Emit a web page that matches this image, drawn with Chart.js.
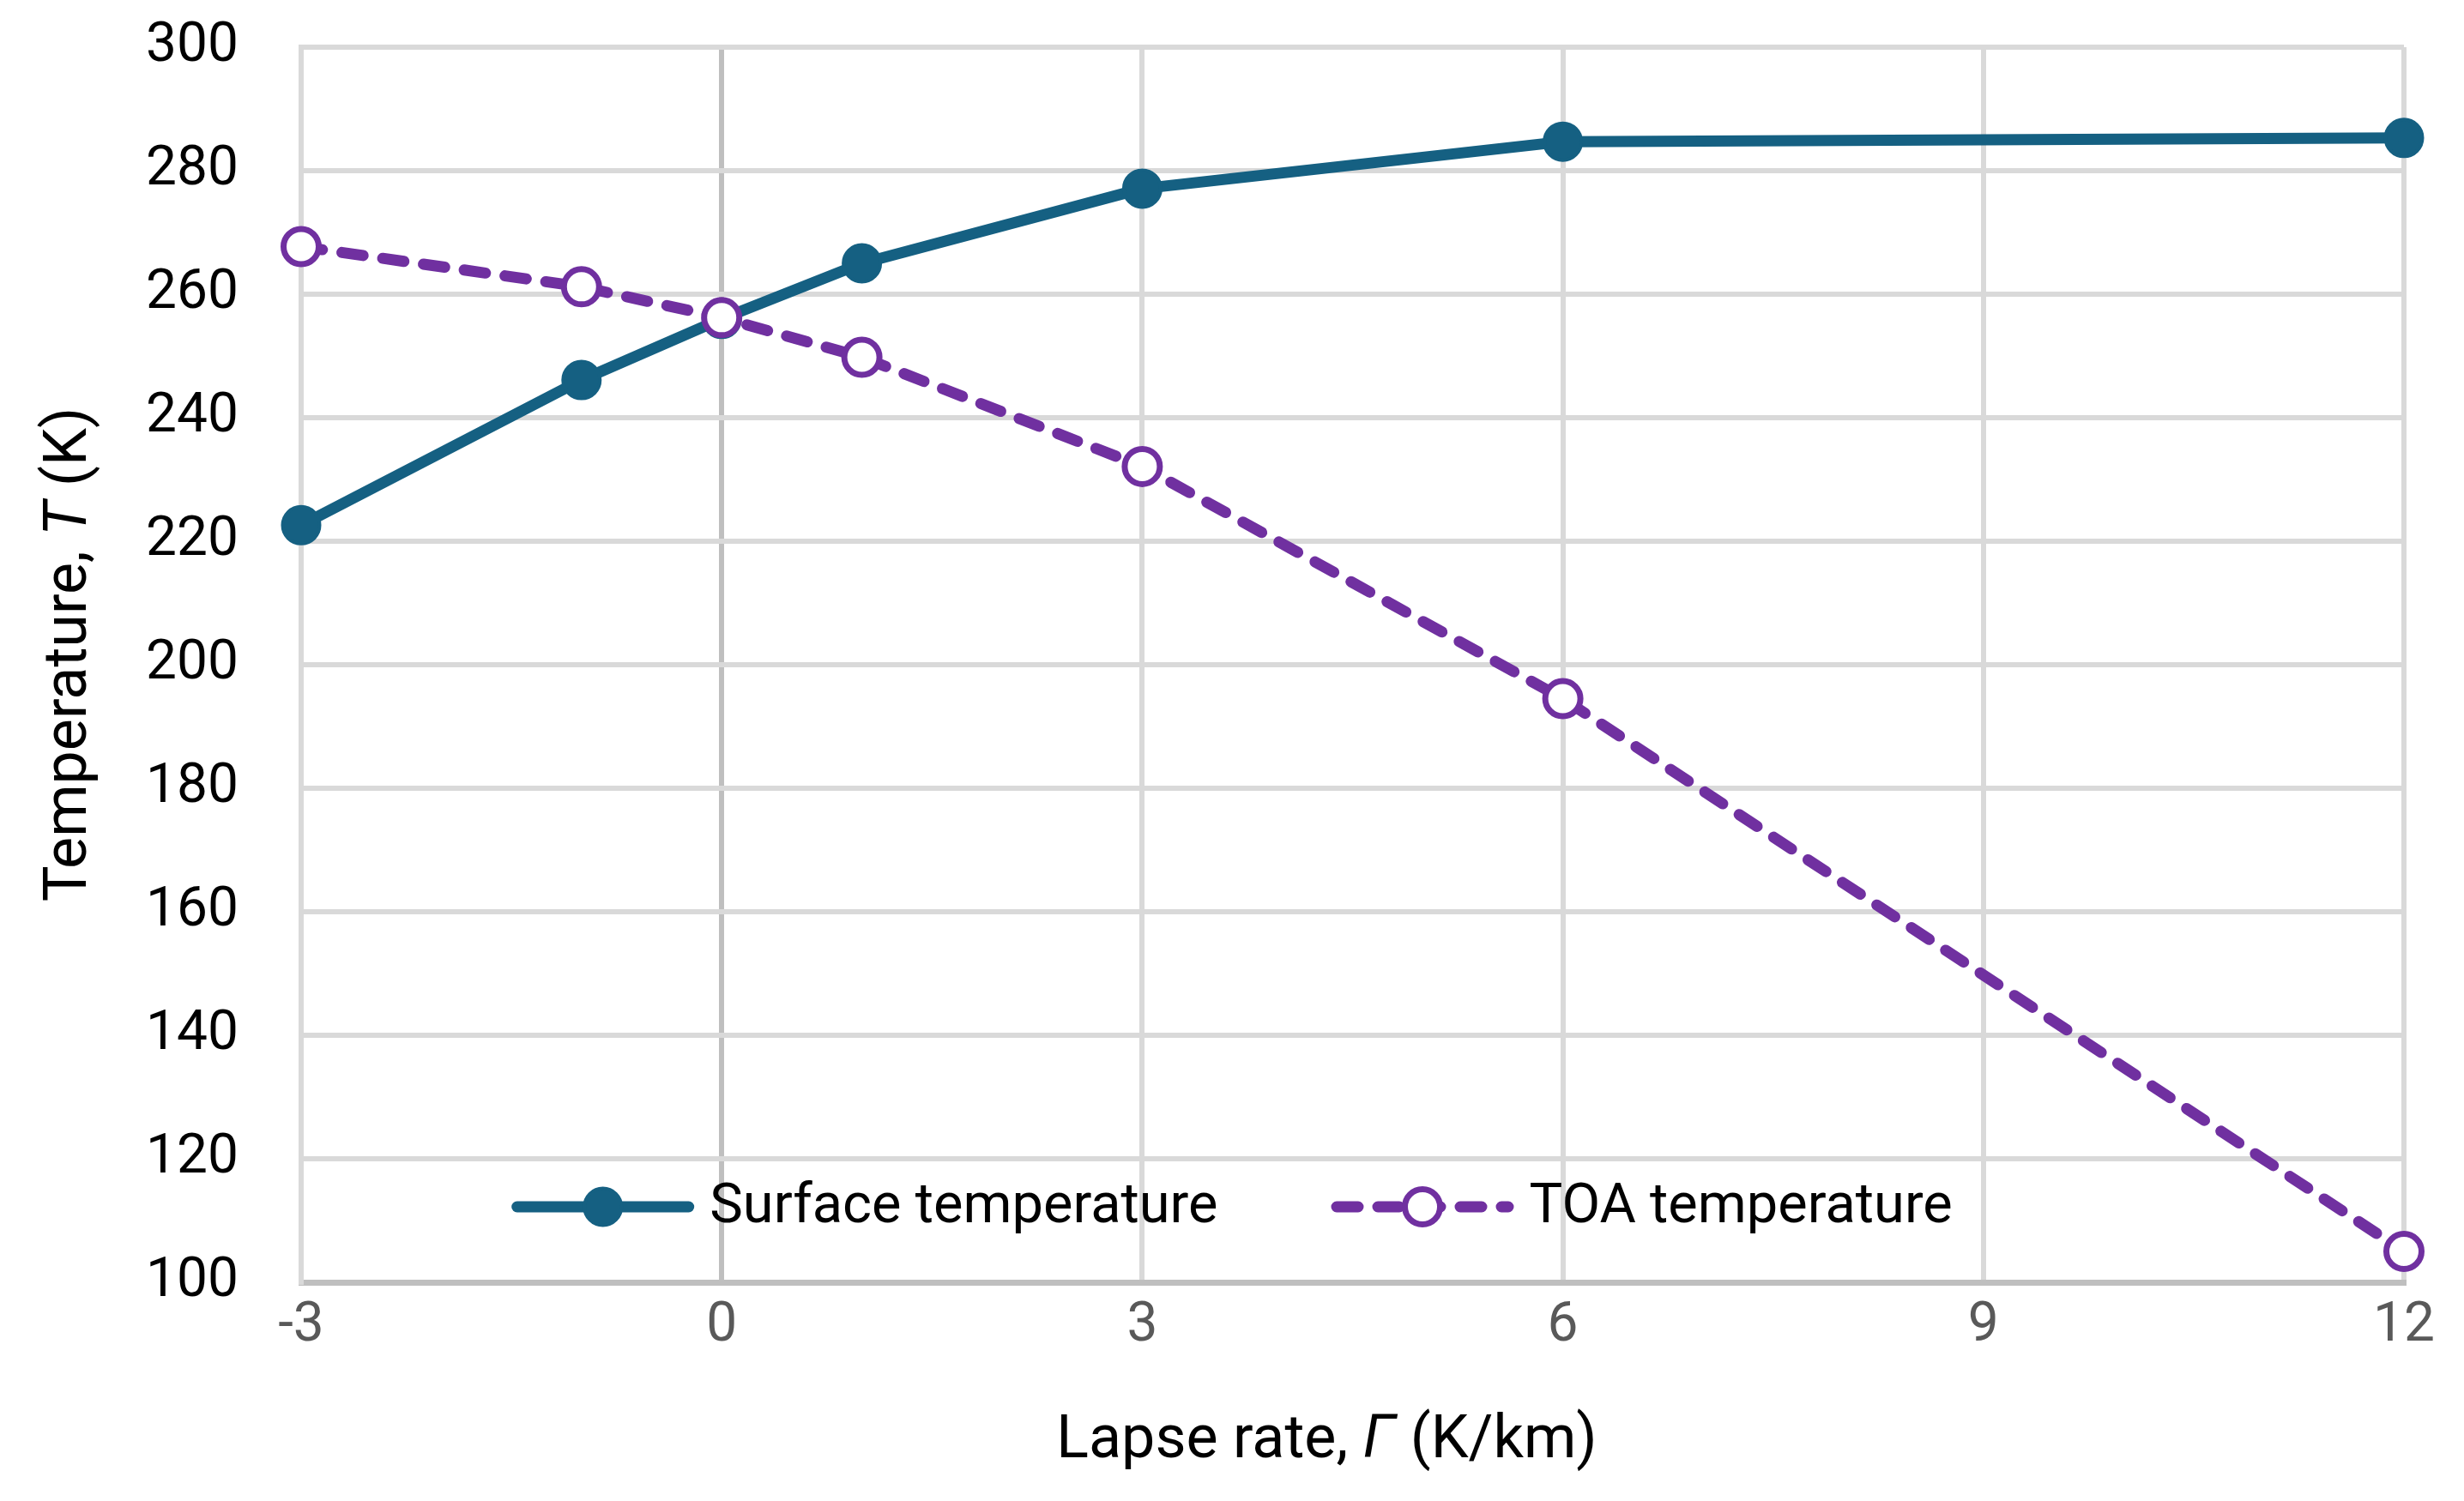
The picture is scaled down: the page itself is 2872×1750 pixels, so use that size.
<!DOCTYPE html>
<html>
<head>
<meta charset="utf-8">
<script src="https://cdn.jsdelivr.net/npm/chart.js@4.4.1/dist/chart.umd.min.js"></script>
<style>
  html, body { margin: 0; padding: 0; background: #fff; }
  canvas { display: block; }
</style>
</head>
<body>
<canvas id="chart" width="2872" height="1750"></canvas>
<script>
'use strict';

// lapse rate (K/km) and temperatures (K)
const lapseRates = [-3, -1, 0, 1, 3, 6, 12];
const surfaceTemps = [222.6, 246.1, 256.0, 265.0, 277.1, 284.7, 285.3];
const toaTemps = [267.7, 261.2, 256.2, 249.8, 232.1, 194.5, 105.0];
const xTicks = [-3, 0, 3, 6, 9, 12];
const yTicks = [100, 120, 140, 160, 180, 200, 220, 240, 260, 280, 300];

const fontFamily = 'Roboto, "Liberation Sans", sans-serif';
const tickSize = 64;
const titleSize = 70;
const legendSize = 65;

function toPoints(xs, ys) {
    return xs.map((x, i) => ({x: x, y: ys[i]}));
}

// draws a text run made of normal / italic parts, centred on (cx, cy)
function drawMixed(ctx, parts, cx, cy, size) {
    const fonts = parts.map(p => (p[1] ? 'italic ' : '') + size + 'px ' + fontFamily);
    let total = 0;
    const widths = parts.map((p, i) => {
        ctx.font = fonts[i];
        const w = ctx.measureText(p[0]).width;
        total += w;
        return w;
    });
    let x = cx - total / 2;
    ctx.textAlign = 'left';
    ctx.textBaseline = 'middle';
    parts.forEach((p, i) => {
        ctx.font = fonts[i];
        ctx.fillText(p[0], x, cy);
        x += widths[i];
    });
}

const axisTitles = {
    id: 'axisTitles',
    afterDraw(chart) {
        const ctx = chart.ctx;
        const area = chart.chartArea;
        ctx.save();
        ctx.fillStyle = '#000';
        drawMixed(ctx, [['Lapse rate, ', false], ['\u0393', true], [' (K/km)', false]],
            (area.left + area.right) / 2 - 30, area.bottom + 186, titleSize);
        ctx.translate(82, (area.top + area.bottom) / 2 - 12);
        ctx.rotate(-Math.PI / 2);
        drawMixed(ctx, [['Temperature, ', false], ['T', true], [' (K)', false]], 0, 0, titleSize);
        ctx.restore();
    }
};

const insideLegend = {
    id: 'insideLegend',
    afterDatasetsDraw(chart) {
        const ctx = chart.ctx;
        const area = chart.chartArea;
        const y = area.bottom - 88;
        const sampleW = 213, textGap = 18, itemGap = 132;
        ctx.save();
        ctx.font = legendSize + 'px ' + fontFamily;
        const items = chart.data.datasets.map(ds => ({
            ds: ds,
            w: sampleW + textGap + ctx.measureText(ds.label).width
        }));
        const total = items.reduce((s, it) => s + it.w, 0) + itemGap * (items.length - 1);
        let x = chart.width / 2 - total / 2;
        items.forEach(it => {
            const ds = it.ds;
            ctx.strokeStyle = ds.borderColor;
            ctx.lineWidth = ds.borderWidth;
            ctx.lineCap = ds.borderCapStyle || 'butt';
            ctx.setLineDash(ds.borderDash || []);
            ctx.beginPath();
            ctx.moveTo(x + ds.borderWidth / 2, y);
            ctx.lineTo(x + sampleW - ds.borderWidth / 2, y);
            ctx.stroke();
            ctx.setLineDash([]);
            ctx.beginPath();
            ctx.arc(x + sampleW / 2, y, ds.pointRadius, 0, Math.PI * 2);
            ctx.fillStyle = ds.pointBackgroundColor;
            ctx.fill();
            ctx.lineWidth = ds.pointBorderWidth;
            ctx.strokeStyle = ds.pointBorderColor;
            ctx.stroke();
            ctx.fillStyle = '#000';
            ctx.textAlign = 'left';
            ctx.textBaseline = 'middle';
            ctx.fillText(ds.label, x + sampleW + textGap, y + 2);
            x += it.w + itemGap;
        });
        ctx.restore();
    }
};

const ctx = document.getElementById('chart').getContext('2d');
new Chart(ctx, {
    type: 'line',
    data: {
        datasets: [{
            label: 'Surface temperature',
            data: toPoints(lapseRates, surfaceTemps),
            borderColor: '#156082',
            borderWidth: 13,
            borderCapStyle: 'round',
            borderJoinStyle: 'round',
            pointRadius: 21.5,
            pointBorderWidth: 4,
            pointBackgroundColor: '#156082',
            pointBorderColor: '#156082',
            tension: 0,
            clip: false,
            order: 1
        }, {
            label: 'TOA temperature',
            data: toPoints(lapseRates, toaTemps),
            borderColor: '#7030a0',
            borderWidth: 13,
            borderDash: [25, 23],
            borderCapStyle: 'round',
            pointRadius: 20.5,
            pointBorderWidth: 7,
            pointBackgroundColor: '#ffffff',
            pointBorderColor: '#7030a0',
            tension: 0,
            clip: false,
            order: 0
        }]
    },
    options: {
        responsive: false,
        animation: false,
        layout: { padding: { left: 0, right: 70, top: 55, bottom: 0 } },
        plugins: {
            legend: { display: false },
            tooltip: { enabled: false }
        },
        scales: {
            x: {
                type: 'linear',
                min: xTicks[0],
                max: xTicks[xTicks.length - 1],
                afterBuildTicks: scale => { scale.ticks = xTicks.map(v => ({value: v})); },
                afterFit: scale => {
                    scale.height = 255;
                    scale.paddingLeft = 0;
                    scale.paddingRight = 0;
                },
                ticks: {
                    color: '#595959',
                    font: { family: fontFamily, size: tickSize },
                    padding: 14,
                    maxRotation: 0
                },
                grid: {
                    color: c => (c.tick && c.tick.value === 0 ? '#bfbfbf' : '#d9d9d9'),
                    lineWidth: 6,
                    drawTicks: false
                },
                border: { color: '#bfbfbf', width: 7 }
            },
            y: {
                min: yTicks[0],
                max: yTicks[yTicks.length - 1],
                afterBuildTicks: scale => { scale.ticks = yTicks.map(v => ({value: v})); },
                afterFit: scale => {
                    scale.width = 351;
                    scale.paddingTop = 0;
                    scale.paddingBottom = 0;
                },
                ticks: {
                    color: '#000',
                    font: { family: fontFamily, size: tickSize },
                    padding: 73
                },
                grid: {
                    color: '#d9d9d9',
                    lineWidth: 6,
                    drawTicks: false
                },
                border: { color: '#d9d9d9', width: 6 }
            }
        }
    },
    plugins: [axisTitles, insideLegend]
});
</script>
</body>
</html>
